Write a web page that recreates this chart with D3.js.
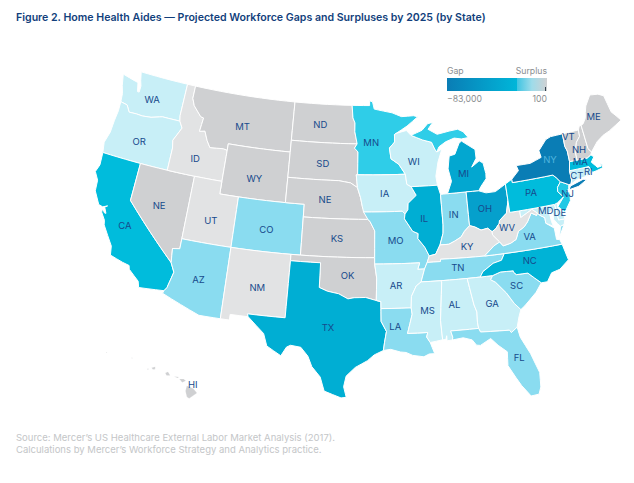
<!DOCTYPE html>
<html lang="en">
<head>
    <meta charset="UTF-8">
    <title>Home Health Aides - Workforce Gaps and Surpluses</title>
    <script src="https://d3js.org/d3.v7.min.js"></script>
    <style>
        html, body { margin: 0; background: #fff; }
        text { font-family: Inter, "Noto Sans", sans-serif; }
        .state { stroke: #fff; stroke-width: 1; stroke-linejoin: round; }
        .state-label { font-size: 9.5px; fill: #174a8c; text-anchor: middle; dominant-baseline: central; }
        .title { font-size: 10.6px; font-weight: 600; fill: #123f7c; }
        .legend-text { font-size: 8.7px; fill: #8a8d90; }
        .source { font-size: 9.5px; fill: #c4c6c8; }
    </style>
</head>
<body>
    <div id="chart"></div>
    <script>
        // Projected gap (-) or surplus per state, estimated from the map colours.
        // MIU is Michigan's upper peninsula: the source shades it lighter and leaves it unlabelled
        const states = ["WA","OR","CA","NV","ID","MT","WY","UT","CO","AZ","NM","ND","SD","NE","KS","OK","TX","MN","IA","MO","AR","LA","WI","IL","IN","MI","MIU","OH","KY","TN","MS","AL","GA","FL","SC","NC","VA","WV","MD","DE","PA","NJ","NY","CT","RI","MA","VT","NH","ME","HI"];
        const gaps = [-2000,-2000,-22000,100,-200,100,100,-200,-6000,-6000,-200,100,100,100,100,100,-30000,-15000,-2000,-6000,-2000,-6000,-2000,-30000,-6000,-33000,-15000,-36000,-200,-6000,-2000,-2000,-2000,-6000,-6000,-27000,-6000,-200,-2000,-2000,-22000,-17000,-83000,-2000,-2000,-22000,100,100,100,100];
        // The source map prints "NE" on Nevada as well as on Nebraska
        const labels = {NV: "NE", MIU: ""};

        const colorBreaks = [-83000,-36000,-30000,-22000,-15000,-6000,-2000,-200,100];
        const colorRange = ["#0a7db5","#05a0cc","#00aed3","#00bcdc","#2fcde8","#8adcf0","#c8eff7","#e2e3e4","#cfd0d2"];

        const shapes = {
            WA: [[[-124.7,48.4],[-123.1,48.15],[-122.75,48.1],[-122.5,47.4],[-122.3,47.4],[-122.3,47.9],[-122.5,48.3],[-122.75,49],[-117.03,49],[-117.04,46.42],[-116.92,46],[-118.98,46],[-119.3,45.93],[-120.2,45.73],[-121.2,45.65],[-121.9,45.68],[-122.75,45.65],[-123.2,46.15],[-124,46.25],[-124.1,46.9],[-124.4,47.5]]],
            OR: [[[-124,46.25],[-123.2,46.15],[-122.75,45.65],[-121.9,45.68],[-121.2,45.65],[-120.2,45.73],[-119.3,45.93],[-118.98,46],[-116.92,46],[-116.5,45.5],[-116.85,44.95],[-117.2,44.4],[-117.03,43.8],[-117.03,42],[-124.2,42],[-124.4,42.8],[-124.1,43.7],[-124.05,44.7],[-123.95,45.5]]],
            CA: [[[-124.2,42],[-120,42],[-120,39],[-114.6,35],[-114.15,34.3],[-114.5,33],[-114.72,32.72],[-117.12,32.53],[-117.3,33],[-118.4,33.75],[-118.5,34.03],[-119.2,34.15],[-120.5,34.45],[-120.65,35.15],[-121.9,36.6],[-122,36.95],[-122.5,37.5],[-122.5,37.78],[-122.2,37.5],[-122.05,37.5],[-122.35,37.95],[-122.1,38.1],[-122.55,37.92],[-123,38],[-123.75,38.95],[-123.85,39.8],[-124.35,40.4],[-124.1,41]]],
            NV: [[[-120,42],[-114.04,42],[-114.04,36.2],[-114.75,36.1],[-114.6,35],[-120,39]]],
            ID: [[[-117.03,49],[-116.05,49],[-116.05,48],[-115.7,47.45],[-114.7,46.7],[-114.35,46.65],[-114.5,45.55],[-113.9,45.65],[-113.45,44.95],[-113,44.45],[-111.5,44.55],[-111.05,44.48],[-111.05,42],[-117.03,42],[-117.03,43.8],[-117.2,44.4],[-116.85,44.95],[-116.5,45.5],[-116.92,46],[-117.04,46.42]]],
            MT: [[[-116.05,49],[-104.05,49],[-104.05,45],[-111.05,45],[-111.05,44.48],[-111.5,44.55],[-113,44.45],[-113.45,44.95],[-113.9,45.65],[-114.5,45.55],[-114.35,46.65],[-114.7,46.7],[-115.7,47.45],[-116.05,48]]],
            WY: [[[-111.05,45],[-104.05,45],[-104.05,41],[-111.05,41]]],
            UT: [[[-114.04,42],[-111.05,42],[-111.05,41],[-109.05,41],[-109.05,37],[-114.04,37]]],
            CO: [[[-109.05,41],[-102.05,41],[-102.05,37],[-109.05,37]]],
            AZ: [[[-114.04,37],[-109.05,37],[-109.05,31.33],[-111.07,31.33],[-114.8,32.5],[-114.72,32.72],[-114.5,33],[-114.15,34.3],[-114.6,35],[-114.75,36.1],[-114.04,36.2]]],
            NM: [[[-109.05,37],[-103,37],[-103.05,32],[-106.6,32],[-106.5,31.78],[-108.2,31.78],[-108.2,31.33],[-109.05,31.33]]],
            ND: [[[-104.05,49],[-97.23,49],[-97.1,48],[-96.85,47.6],[-96.85,46.9],[-96.56,45.94],[-104.05,45.94]]],
            SD: [[[-104.05,45.94],[-96.56,45.94],[-96.85,45.6],[-96.45,45.3],[-96.45,43.5],[-96.6,43.5],[-96.45,42.49],[-97.2,42.85],[-98.5,43],[-104.05,43]]],
            NE: [[[-104.05,43],[-98.5,43],[-97.2,42.85],[-96.45,42.49],[-96.1,41.7],[-95.9,41],[-95.31,40],[-102.05,40],[-102.05,41],[-104.05,41]]],
            KS: [[[-102.05,40],[-95.31,40],[-95.1,39.85],[-94.6,39.1],[-94.62,37],[-102.05,37]]],
            OK: [[[-103,37],[-94.62,37],[-94.62,36.5],[-94.43,35.4],[-94.48,33.64],[-95.5,33.88],[-96.6,33.85],[-97.2,33.75],[-98.1,34.13],[-99.2,34.3],[-100,34.56],[-100,36.5],[-103,36.5]]],
            TX: [[[-103,36.5],[-100,36.5],[-100,34.56],[-99.2,34.3],[-98.1,34.13],[-97.2,33.75],[-96.6,33.85],[-95.5,33.88],[-94.48,33.64],[-94.04,33.55],[-94.04,32],[-93.55,31.2],[-93.75,30.3],[-93.85,29.7],[-94.7,29.35],[-95.3,28.9],[-96.4,28.35],[-97.2,27.65],[-97.4,26.8],[-97.15,25.96],[-97.6,25.9],[-99.1,26.4],[-99.5,27.5],[-100.3,28.3],[-100.7,29.1],[-101.4,29.77],[-102.35,29.87],[-102.7,29.7],[-103.15,28.98],[-104.5,29.65],[-104.9,30.6],[-106.5,31.78],[-106.6,32],[-103.05,32]]],
            MN: [[[-97.23,49],[-95.15,49],[-95.15,49.38],[-94.8,49.3],[-94.6,48.72],[-93.5,48.55],[-92.5,48.4],[-91.4,48.07],[-90,48.1],[-89.5,48],[-90.8,47.3],[-92.1,46.75],[-92.29,46.66],[-92.29,46.07],[-92.9,45.6],[-92.75,44.75],[-91.9,44.3],[-91.22,43.5],[-96.45,43.5],[-96.45,45.3],[-96.85,45.6],[-96.56,45.94],[-96.85,46.9],[-96.85,47.6],[-97.1,48]]],
            IA: [[[-96.6,43.5],[-91.22,43.5],[-91.1,42.7],[-90.65,42.5],[-90.15,41.8],[-91.05,41.2],[-91.1,40.7],[-91.42,40.38],[-91.7,40.6],[-95.77,40.58],[-95.9,41],[-96.1,41.7],[-96.45,42.49]]],
            MO: [[[-95.77,40.58],[-91.7,40.6],[-91.42,40.38],[-91.5,40],[-90.7,39],[-90.15,38.8],[-90.2,38.4],[-89.55,37.7],[-89.15,37],[-89.4,36.5],[-89.7,36],[-90.37,36],[-90.15,36.5],[-94.62,36.5],[-94.62,37],[-94.6,39.1],[-95.1,39.85],[-95.31,40]]],
            AR: [[[-94.62,36.5],[-90.15,36.5],[-90.37,36],[-89.7,36],[-90.1,35],[-90.6,34.7],[-91.1,33.9],[-91.17,33],[-94.04,33],[-94.04,33.55],[-94.48,33.64],[-94.43,35.4]]],
            LA: [[[-94.04,33],[-91.17,33],[-91.1,32.5],[-91.6,31],[-89.73,31],[-89.85,30.65],[-89.55,30.2],[-89.4,29.8],[-89.2,29.3],[-89.7,29.3],[-90.2,29.1],[-91.2,29.25],[-91.8,29.5],[-92.3,29.55],[-93.2,29.78],[-93.85,29.7],[-93.75,30.3],[-93.55,31.2],[-94.04,32]]],
            WI: [[[-92.29,46.66],[-92.1,46.75],[-90.9,46.95],[-90.4,46.55],[-89.1,46.13],[-88.1,45.9],[-87.8,45.35],[-87.6,45.1],[-87,45.3],[-87.55,44.3],[-87.9,43.2],[-87.8,42.49],[-90.65,42.5],[-91.1,42.7],[-91.22,43.5],[-91.9,44.3],[-92.75,44.75],[-92.9,45.6],[-92.29,46.07]]],
            IL: [[[-90.65,42.5],[-87.8,42.49],[-87.55,41.75],[-87.53,39.35],[-87.6,38.7],[-88,37.8],[-88.5,37.1],[-89.15,37],[-89.55,37.7],[-90.2,38.4],[-90.15,38.8],[-90.7,39],[-91.5,40],[-91.42,40.38],[-91.1,40.7],[-91.05,41.2],[-90.15,41.8]]],
            IN: [[[-87.55,41.75],[-87.2,41.76],[-84.8,41.76],[-84.82,39.1],[-85.4,38.7],[-85.8,38.28],[-86.5,38],[-87.1,37.8],[-88,37.8],[-87.6,38.7],[-87.53,39.35]]],
            MI: [[[-86.8,41.76],[-84.8,41.76],[-83.45,41.73],[-83.15,42.05],[-82.5,42.6],[-82.45,43],[-82.6,43.85],[-83,44.07],[-83.9,43.65],[-83.3,44.3],[-83.3,45],[-84.7,45.78],[-85,45.65],[-85.6,44.8],[-86.25,44.7],[-86.5,43.7],[-86.25,42.7]]],
            MIU: [[[-90.4,46.55],[-89.1,46.9],[-88.4,47.4],[-87.8,47.47],[-88.4,46.95],[-87.4,46.5],[-86,46.67],[-85,46.75],[-84.4,46.5],[-83.9,46],[-84.7,45.95],[-85.5,46.08],[-86.5,45.85],[-87.3,45.5],[-87.6,45.1],[-87.8,45.35],[-88.1,45.9],[-89.1,46.13]]],
            OH: [[[-84.8,41.76],[-83.45,41.73],[-82.7,41.5],[-81.7,41.5],[-80.52,41.98],[-80.52,40.64],[-80.87,39.7],[-81.7,39.2],[-81.75,39],[-82.2,38.6],[-82.6,38.42],[-83,38.73],[-83.7,38.65],[-84.3,38.95],[-84.82,39.1]]],
            KY: [[[-89.4,36.5],[-88.07,36.5],[-88.05,36.68],[-83.67,36.6],[-82.6,37.3],[-81.97,37.54],[-82.6,38.17],[-82.6,38.42],[-83,38.73],[-83.7,38.65],[-84.3,38.95],[-84.82,39.1],[-85.4,38.7],[-85.8,38.28],[-86.5,38],[-87.1,37.8],[-88,37.8],[-88.5,37.1],[-89.15,37]]],
            TN: [[[-90.1,35],[-88.2,35],[-85.6,35],[-84.32,35],[-84,35.4],[-82.9,35.95],[-82.05,36.1],[-81.68,36.59],[-83.67,36.6],[-88.05,36.68],[-88.07,36.5],[-89.4,36.5],[-89.7,36]]],
            MS: [[[-90.1,35],[-88.2,35],[-88.1,34.9],[-88.47,31.9],[-88.4,30.35],[-89.55,30.2],[-89.85,30.65],[-89.73,31],[-91.6,31],[-91.1,32.5],[-91.17,33],[-91.1,33.9],[-90.6,34.7]]],
            AL: [[[-88.2,35],[-85.6,35],[-85.2,32.87],[-85,32.3],[-85.05,31.5],[-85,31],[-87.6,31],[-87.45,30.5],[-87.5,30.28],[-88,30.25],[-88,30.65],[-88.1,30.35],[-88.4,30.35],[-88.47,31.9],[-88.1,34.9]]],
            GA: [[[-85.6,35],[-83.1,35],[-83.35,34.7],[-82.9,34.45],[-82,33.5],[-81.4,32.6],[-80.87,32.05],[-81.15,31.5],[-81.45,30.72],[-82.05,30.36],[-82.2,30.57],[-84.86,30.7],[-85,31],[-85.05,31.5],[-85,32.3],[-85.2,32.87]]],
            FL: [[[-87.6,31],[-85,31],[-84.86,30.7],[-82.2,30.57],[-82.05,30.36],[-81.45,30.72],[-81.3,29.9],[-80.6,28.5],[-80.05,26.9],[-80.15,25.75],[-80.4,25.2],[-81.1,25.15],[-81.8,26.1],[-82.2,26.8],[-82.75,27.8],[-82.65,28.9],[-83.4,29.5],[-84,30.1],[-85,29.65],[-85.35,29.7],[-85.7,30.15],[-86.5,30.38],[-87.5,30.28],[-87.45,30.5]]],
            SC: [[[-83.1,35],[-82.3,35.2],[-81.05,35.15],[-81.05,35.05],[-80.8,34.82],[-79.68,34.8],[-78.55,33.87],[-79.2,33.2],[-80.45,32.3],[-80.87,32.05],[-81.4,32.6],[-82,33.5],[-82.9,34.45],[-83.35,34.7]]],
            NC: [[[-84.32,35],[-83.1,35],[-82.3,35.2],[-81.05,35.15],[-81.05,35.05],[-80.8,34.82],[-79.68,34.8],[-78.55,33.87],[-77.95,33.87],[-77.4,34.5],[-76.55,34.65],[-75.55,35.25],[-75.85,36.55],[-81.68,36.59],[-82.05,36.1],[-82.9,35.95],[-84,35.4]]],
            VA: [[[-83.67,36.6],[-81.68,36.59],[-75.85,36.55],[-76,36.95],[-76.3,37],[-76.3,37.9],[-77.05,38.4],[-77.05,38.85],[-77.5,39.1],[-77.72,39.32],[-77.83,39.14],[-78.35,39.4],[-78.87,38.77],[-79.3,38.42],[-79.95,38.15],[-80.3,37.55],[-80.9,37.32],[-81.68,37.2],[-81.97,37.54],[-82.6,37.3]],
                 [[-75.95,37.15],[-75.65,37.95],[-75.25,38.03]]],
            WV: [[[-82.6,38.42],[-82.6,38.17],[-81.97,37.54],[-81.68,37.2],[-80.9,37.32],[-80.3,37.55],[-79.95,38.15],[-79.3,38.42],[-78.87,38.77],[-78.35,39.4],[-77.83,39.14],[-77.72,39.32],[-78.2,39.68],[-79.48,39.2],[-79.48,39.72],[-80.52,39.72],[-80.52,40.64],[-80.87,39.7],[-81.7,39.2],[-81.75,39],[-82.2,38.6]]],
            MD: [[[-79.48,39.72],[-75.79,39.72],[-75.7,38.46],[-75.05,38.45],[-75.25,38.03],[-75.65,37.95],[-75.9,38.2],[-76.2,38.6],[-76.1,39.4],[-76.5,39.15],[-76.45,38.45],[-76.35,38.05],[-77.05,38.4],[-77.05,38.85],[-77.5,39.1],[-77.72,39.32],[-78.2,39.68],[-79.48,39.2]]],
            DE: [[[-75.79,39.72],[-75.45,39.8],[-75.55,39.45],[-75.1,38.8],[-75.05,38.45],[-75.7,38.46]]],
            PA: [[[-80.52,41.98],[-79.76,42.27],[-79.76,42],[-75.35,42],[-75.05,41.75],[-74.7,41.36],[-75.13,40.98],[-75.2,40.65],[-74.72,40.15],[-75.45,39.8],[-75.79,39.72],[-80.52,39.72]]],
            NJ: [[[-74.7,41.36],[-73.9,41],[-74,40.7],[-74.25,40.5],[-73.98,40.4],[-74.1,39.75],[-74.9,38.95],[-75.5,39.5],[-74.72,40.15],[-75.2,40.65],[-75.13,40.98]]],
            NY: [[[-79.76,42.27],[-78.9,42.85],[-79.05,43.27],[-77.5,43.25],[-76.2,43.55],[-76.3,44.1],[-75.3,44.85],[-74.7,45],[-73.35,45.01],[-73.4,44],[-73.25,43.6],[-73.27,42.75],[-73.5,42.05],[-73.5,41.3],[-73.65,41],[-73.9,41],[-74.7,41.36],[-75.05,41.75],[-75.35,42],[-79.76,42]],
                 [[-74,40.6],[-73.75,40.87],[-72.3,41.15],[-71.9,41.07],[-72.9,40.7]]],
            CT: [[[-73.5,42.05],[-71.8,42.02],[-71.85,41.32],[-72.9,41.25],[-73.65,41],[-73.5,41.3]]],
            RI: [[[-71.8,42.02],[-71.38,42.02],[-71.15,41.5],[-71.5,41.37],[-71.85,41.32]]],
            MA: [[[-73.27,42.75],[-71.3,42.7],[-70.85,42.87],[-70.6,42.65],[-71,42.3],[-70.65,41.95],[-70.5,41.78],[-70.05,41.8],[-70.2,42.08],[-69.95,41.9],[-69.98,41.65],[-70.65,41.55],[-71.15,41.5],[-71.38,42.02],[-71.8,42.02],[-73.5,42.05]]],
            VT: [[[-73.35,45.01],[-71.5,45.01],[-71.55,44.5],[-72.05,44.1],[-72.4,43.4],[-72.45,42.73],[-73.27,42.75],[-73.25,43.6],[-73.4,44]]],
            NH: [[[-71.5,45.01],[-71.3,45.3],[-71.08,45.3],[-70.98,43.4],[-70.7,43.07],[-70.85,42.87],[-71.3,42.7],[-72.45,42.73],[-72.4,43.4],[-72.05,44.1],[-71.55,44.5]]],
            ME: [[[-71.08,45.3],[-70.8,45.4],[-70.4,45.8],[-70.25,46.2],[-70,46.7],[-69.23,47.46],[-69,47.43],[-68.3,47.35],[-67.7,47.1],[-67.4,45.7],[-67,45.3],[-66.6,44.85],[-68.2,44.3],[-69,44.1],[-69.8,43.75],[-70.7,43.07],[-70.98,43.4]]],
            HI: [[[-155.9,20.25],[-155.2,19.95],[-154.8,19.5],[-155.65,18.95],[-155.9,19.1],[-156.05,19.7]],
                 [[-156.7,20.95],[-156.25,20.95],[-156,20.75],[-156.4,20.58]],
                 [[-157.3,21.2],[-156.75,21.15],[-156.9,21.05]],
                 [[-158.25,21.55],[-157.95,21.7],[-157.7,21.3],[-158.1,21.3]],
                 [[-159.75,22.1],[-159.35,22.2],[-159.35,21.95],[-159.6,21.9]],
                 [[-160.25,21.95],[-160.1,22],[-160.1,21.85]],
                 [[-161.98,23.1],[-161.85,23.1],[-161.9,23]],
                 [[-164.78,23.62],[-164.65,23.62],[-164.7,23.52]]]
        };

        // Label nudges in pixels, away from each state's centroid
        const nudges = {
            WA:[-2,3], OR:[-3,3.5], CA:[-5,1], NV:[-4,1], ID:[0,12], MT:[-2,6], WY:[-1.5,4.5], UT:[0.5,6.5], CO:[-2,3], AZ:[-1,2], NM:[1,3.5],
            ND:[-3.5,0.5], SD:[-1,2], NE:[-1,1], KS:[-1,0], OK:[2,0.5], TX:[3,0], MN:[-6,3], IA:[0,0.5], MO:[-0.5,0.5], AR:[-1,1], LA:[-8.5,-6.5],
            WI:[-2,2], IL:[-2.5,1], IN:[-0.5,-2], MI:[-2,2.5], OH:[-2,0.5], KY:[0,1], TN:[-1,-1], MS:[0.5,0], AL:[-2.5,-3.5], GA:[-1,-2], FL:[9.5,2.5],
            SC:[-1,-1.5], NC:[-1.5,-2], VA:[-0.5,-1], WV:[-4,1.5], MD:[-0.5,-4], DE:[0.5,-0.5], PA:[-2,-1], NJ:[3.5,-2.5], NY:[1,-4.5],
            CT:[-1,1], RI:[0,0], MA:[-4,-3], VT:[-3,-7], NH:[-3,3], ME:[-4,-3.5], HI:[9,-2]
        };

        const width = 634, height = 483;

        const svg = d3.select("#chart").append("svg")
            .attr("width", width)
            .attr("height", height);

        const color = d3.scaleLinear().domain(colorBreaks).range(colorRange);

        const mainProjection = d3.geoAlbers().rotate([95, 0]).scale(724).translate([365, 236]);
        const hawaiiProjection = d3.geoConicEqualArea()
            .rotate([157, 0])
            .center([-3, 19.9])
            .parallels([8, 18])
            .scale(560)
            .translate([149, 389]);

        // Long edges should follow the parallels, so add points along each ring
        function densify(ring) {
            const out = [];
            ring.forEach((p, i) => {
                const q = ring[(i + 1) % ring.length];
                const steps = Math.ceil(Math.max(Math.abs(q[0] - p[0]), Math.abs(q[1] - p[1])));
                for (let k = 0; k < steps; k++) {
                    out.push([p[0] + (q[0] - p[0]) * k / steps, p[1] + (q[1] - p[1]) * k / steps]);
                }
            });
            out.push(out[0]);
            return out;
        }

        function toFeature(id, i) {
            const polygons = shapes[id].map(ring => {
                const dense = densify(ring);
                // d3.geo wants clockwise rings; flip any that come out inside-out
                return [d3.geoArea({type: "Polygon", coordinates: [dense]}) > 2 * Math.PI ? dense.reverse() : dense];
            });
            return {
                type: "Feature",
                id: id,
                value: gaps[i],
                geometry: {type: "MultiPolygon", coordinates: polygons}
            };
        }

        const features = states.map(toFeature);
        const pathFor = d => d3.geoPath(d.id === "HI" ? hawaiiProjection : mainProjection);

        svg.append("text")
            .attr("class", "title")
            .attr("x", 16)
            .attr("y", 21)
            .text("Figure 2. Home Health Aides — Projected Workforce Gaps and Surpluses by 2025 (by State)");

        svg.append("g").selectAll("path")
            .data(features)
            .join("path")
            .attr("class", "state")
            .attr("fill", d => color(d.value))
            .style("stroke-width", d => d.id === "HI" ? 0.2 : null)
            .attr("d", d => pathFor(d)(d));

        svg.append("g").selectAll("text")
            .data(features.filter(d => labels[d.id] !== ""))
            .join("text")
            .attr("class", "state-label")
            .attr("x", d => pathFor(d).centroid(d)[0] + (nudges[d.id] || [0, 0])[0])
            .attr("y", d => pathFor(d).centroid(d)[1] + (nudges[d.id] || [0, 0])[1])
            .style("fill", d => d.id === "NY" ? "#4fb4dd" : null)
            .text(d => labels[d.id] || d.id);

        // Legend
        const defs = svg.append("defs");
        const gradient = defs.append("linearGradient").attr("id", "legend-gradient");
        [[0, "#0a7db5"], [0.7, "#00b6d9"], [0.7, "#3fc4e2"], [0.85, "#9fdcea"], [1, "#d0d1d3"]].forEach(s => {
            gradient.append("stop").attr("offset", s[0]).attr("stop-color", s[1]);
        });

        const legend = svg.append("g");
        legend.append("rect")
            .attr("x", 447).attr("y", 78)
            .attr("width", 100).attr("height", 13)
            .attr("fill", "url(#legend-gradient)");
        legend.append("line")
            .attr("x1", 545.5).attr("x2", 545.5)
            .attr("y1", 87).attr("y2", 91)
            .attr("stroke", "#33424f");
        legend.append("text").attr("class", "legend-text").attr("x", 447).attr("y", 74).text("Gap");
        legend.append("text").attr("class", "legend-text").attr("x", 547).attr("y", 74).attr("text-anchor", "end").text("Surplus");
        legend.append("text").attr("class", "legend-text").attr("x", 447).attr("y", 102).text("−83,000");
        legend.append("text").attr("class", "legend-text").attr("x", 547).attr("y", 102).attr("text-anchor", "end").text("100");

        svg.append("text").attr("class", "source").attr("x", 16).attr("y", 441)
            .text("Source: Mercer’s US Healthcare External Labor Market Analysis (2017).");
        svg.append("text").attr("class", "source").attr("x", 16).attr("y", 453)
            .text("Calculations by Mercer’s Workforce Strategy and Analytics practice.");
    </script>
</body>
</html>
